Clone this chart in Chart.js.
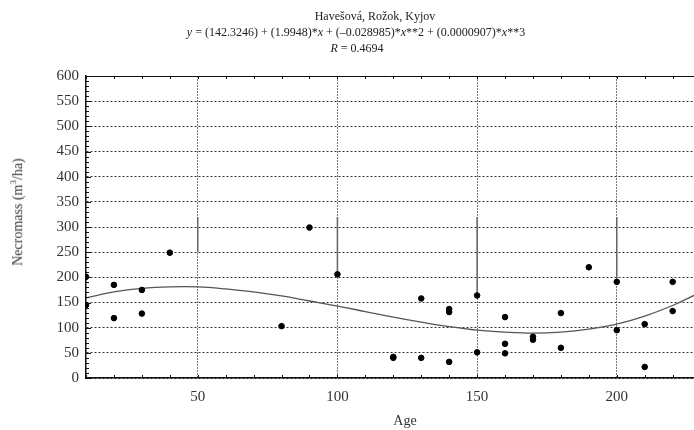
<!DOCTYPE html>
<html>
<head>
  <meta charset="utf-8" />
  <title>Necromass vs Age</title>
  <script src="https://cdn.jsdelivr.net/npm/chart.js"></script>
  <style>
    html, body { margin: 0; padding: 0; background: #fff; }
    #wrap { position: relative; width: 694px; height: 430px; overflow: hidden; font-family: "Liberation Serif", "Times New Roman", serif; color: #222; }
    #chart { position: absolute; left: 0; top: 0; }
    .head { position: absolute; font-size: 12px; line-height: 16px; white-space: nowrap; transform: translateX(-50%); }
    #ylab { position: absolute; left: 17px; top: 212px; font-size: 14px; white-space: nowrap; transform: translate(-50%, -50%) rotate(-90deg); color: #333; }
    #xlab { position: absolute; left: 405px; top: 413px; font-size: 14px; transform: translateX(-50%); color: #333; }
  </style>
</head>
<body>
  <div id="wrap">
    <canvas id="chart" width="700" height="430"></canvas>
    <div class="head" style="top:8px; left:375px;">Havešová, Rožok, Kyjov</div>
    <div class="head" style="top:24px; left:356px;"><i>y</i> = (142.3246) + (1.9948)*<i>x</i> + (–0.028985)*<i>x</i>**2 + (0.0000907)*<i>x</i>**3</div>
    <div class="head" style="top:40px; left:357px;"><i>R</i> = 0.4694</div>
    <div id="ylab">Necromass (m<sup style="font-size:9px">3</sup>/ha)</div>
    <div id="xlab">Age</div>
  </div>

  <script>
  // observed stands
  const ages = [10, 10, 20, 20, 30, 30, 40, 80, 90, 100, 120, 120, 130, 130, 140, 140, 140, 150, 150,
                160, 160, 160, 170, 170, 180, 180, 190, 200, 200, 210, 210, 220, 220];
  const necromass = [201, 145, 185, 119, 175, 128, 249, 103, 299, 206, 40, 42, 158, 40, 137, 131, 32, 164, 51,
                     121, 68, 49, 82, 76, 129, 60, 220, 191, 95, 107, 22, 191, 133];

  // fitted curve
  const fitAges = [10, 20, 30, 40, 50, 60, 70, 80, 90, 100, 110, 120, 130, 140, 150, 160, 170, 180, 190, 200, 210, 220, 228];
  const fitValues = [159, 171, 178, 181, 181, 177, 171, 163, 153, 143, 132, 121, 111, 102, 95, 91, 89, 91, 97, 107, 123, 144, 165];

  // dark vertical strokes on the gridlines in the original scan
  const strokeAges = [50, 100, 150, 200];
  const strokeTop = [320, 320, 320, 320];
  const strokeBottom = [250, 208, 165, 193];

  const xTicks = [50, 100, 150, 200];
  const yTicks = [0, 50, 100, 150, 200, 250, 300, 350, 400, 450, 500, 550, 600];

  const strokeData = [];
  strokeAges.forEach((a, i) => {
    strokeData.push({ x: a, y: strokeTop[i] }, { x: a, y: strokeBottom[i] }, { x: a, y: null });
  });

  const minorTicks = {
    id: 'minorTicks',
    afterDraw(chart) {
      const { ctx, chartArea: a, scales: { x, y } } = chart;
      ctx.save();
      ctx.strokeStyle = '#111';
      ctx.lineWidth = 1;
      ctx.beginPath();
      // top frame line
      ctx.moveTo(a.left, a.top + 0.5);
      ctx.lineTo(a.right, a.top + 0.5);
      for (let v = 10; v <= x.max; v += 10) {
        const px = Math.round(x.getPixelForValue(v)) + 0.5;
        ctx.moveTo(px, a.bottom); ctx.lineTo(px, a.bottom - 3);
        ctx.moveTo(px, a.top); ctx.lineTo(px, a.top + 3);
      }
      for (let v = 0; v <= 600; v += 10) {
        const py = Math.round(y.getPixelForValue(v)) + 0.5;
        ctx.moveTo(a.left, py); ctx.lineTo(a.left + (v % 50 === 0 ? 5 : 3), py);
      }
      ctx.stroke();
      ctx.restore();
    }
  };

  new Chart(document.getElementById('chart').getContext('2d'), {
    type: 'scatter',
    data: {
      datasets: [
        {
          label: 'strokes',
          type: 'line',
          data: strokeData,
          borderColor: '#666',
          borderWidth: 1.5,
          pointRadius: 0,
          spanGaps: false,
          fill: false,
          order: 3
        },
        {
          label: 'fit',
          type: 'line',
          data: fitAges.map((a, i) => ({ x: a, y: fitValues[i] })),
          borderColor: '#555',
          borderWidth: 1.3,
          pointRadius: 0,
          tension: 0.4,
          fill: false,
          order: 2
        },
        {
          label: 'stands',
          data: ages.map((a, i) => ({ x: a, y: necromass[i] })),
          backgroundColor: '#000',
          borderColor: '#000',
          pointRadius: 2.8,
          order: 1
        }
      ]
    },
    options: {
      responsive: false,
      animation: false,
      layout: { padding: { top: 76, left: 0, right: 0, bottom: 0 } },
      plugins: { legend: { display: false }, tooltip: { enabled: false } },
      scales: {
        x: {
          type: 'linear',
          min: 10,
          max: 228,
          afterBuildTicks: s => { s.ticks = xTicks.map(v => ({ value: v })); },
          afterFit: s => { s.height = 52; },
          grid: { color: '#777', lineWidth: 1, drawTicks: false },
          border: { display: true, color: '#111', width: 1.5, dash: [2, 1] },
          ticks: { padding: 10, color: '#333', font: { family: "'Liberation Serif', serif", size: 15 } }
        },
        y: {
          min: 0,
          max: 600,
          afterBuildTicks: s => { s.ticks = yTicks.map(v => ({ value: v })); },
          afterFit: s => { s.width = 86; },
          grid: { color: '#333', lineWidth: 1, drawTicks: false },
          border: { display: true, color: '#111', width: 1.5, dash: [2, 2] },
          ticks: { padding: 7, color: '#333', font: { family: "'Liberation Serif', serif", size: 15 } }
        }
      }
    },
    plugins: [minorTicks]
  });
  </script>
</body>
</html>
